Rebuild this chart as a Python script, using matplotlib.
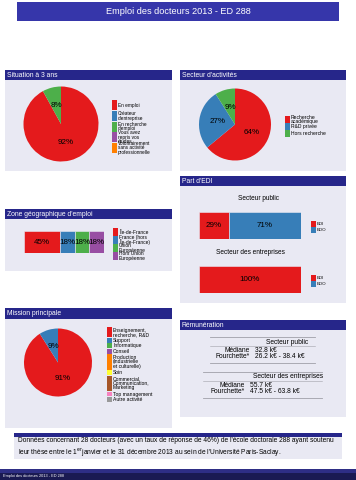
"""Poster: Emploi des docteurs 2013 - ED 288"""
import matplotlib
matplotlib.use("Agg")
import matplotlib.pyplot as plt
from matplotlib.patches import Rectangle

plt.rcParams['font.family'] = ['Liberation Sans', 'DejaVu Sans']

# ---- data ----
set1 = ['#E41A1C', '#377EB8', '#4DAF4A', '#984EA3', '#FF7F00',
        '#FFFF33', '#A65628', '#F781BF', '#999999']

situation_labels = ["En emploi", "Créateur\nd'entreprise", "En recherche\nd'emploi",
                    "Vous avez\nrepris vos\nétudes",
                    "Volontairement\nsans activité\nprofessionnelle"]
situation_values = [92, 0, 8, 0, 0]

secteur_labels = ["Recherche\nacadémique", "R&D privée", "Hors recherche"]
secteur_values = [64, 27, 9]

edi_labels = ["EDI", "EDO"]
edi_public = [29, 71]
edi_entreprises = [100, 0]

zone_labels = ["Île-de-France", "France (hors\nÎle-de-France)", "Union\nEuropéenne",
               "Hors Union\nEuropéenne"]
zone_values = [45, 18, 18, 18]

mission_labels = ["Enseignement,\nrecherche, R&D", "Support", "Informatique", "Conseil",
                  "Production\n(industrielle\net culturelle)", "Soin",
                  "Commercial,\nCommunication,\nMarketing", "Top management",
                  "Autre activité"]
mission_values = [91, 9, 0, 0, 0, 0, 0, 0, 0]

remu_public = ["Secteur public", "32.8 k€", "26.2 k€ - 38.4 k€"]
remu_entreprises = ["Secteur des entreprises", "55.7 k€", "47.5 k€ - 63.8 k€"]

note = ("Données concernant 28 docteurs (avec un taux de réponse de 46%) de l'école "
        "doctorale 288 ayant soutenu\nleur thèse entre le 1$^{\\mathrm{er}}$janvier et le "
        "31 décembre 2013 au sein de l'Université Paris-Saclay.")

# ---- layout helpers (pixel coordinates, origin top-left) ----
W, H = 356, 480
HEAD = '#26268A'
BODY = '#E9E9F3'

fig = plt.figure(figsize=(W / 100, H / 100), dpi=100)
bg = fig.add_axes([0, 0, 1, 1])
bg.set_xlim(0, W)
bg.set_ylim(H, 0)
bg.axis('off')


def px_axes(x0, y0, x1, y1):
    ax = fig.add_axes([x0 / W, 1 - y1 / H, (x1 - x0) / W, (y1 - y0) / H])
    return ax


def block(x0, x1, y_head, y_body, y_end, title):
    bg.add_patch(Rectangle((x0, y_head), x1 - x0, y_body - y_head, color=HEAD, lw=0))
    bg.add_patch(Rectangle((x0, y_body), x1 - x0, y_end - y_body, color=BODY, lw=0))
    bg.text(x0 + 2, (y_head + y_body) / 2 + 0.3, title, color='white', fontsize=4.9,
            va='center', ha='left')


def legend(x, y_top, heights, colors, labels, fs=3.6, ls=0.9):
    y = y_top
    for h, c, lab in zip(heights, colors, labels):
        bg.add_patch(Rectangle((x, y + 0.3), 5, h - 0.6, color=c, lw=0))
        bg.text(x + 6, y + h / 2, lab, fontsize=fs, va='center', ha='left',
                linespacing=ls)
        y += h


def pie(cx, cy, r, values, colors):
    ax = px_axes(cx - r, cy - r, cx + r, cy + r)
    ax.pie(values, colors=colors, startangle=90, counterclock=False,
           autopct=lambda p: f"{p:.0f}%" if p >= 1 else "", pctdistance=0.5,
           textprops={'fontsize': 5.8})
    ax.set_xlim(-1, 1)
    ax.set_ylim(-1, 1)
    ax.axis('off')


def stacked_bar(x0, y0, x1, y1, values, colors):
    ax = px_axes(x0, y0, x1, y1)
    left = 0
    for v, c in zip(values, colors):
        ax.barh(0, v, left=left, height=1, color=c, edgecolor=BODY, linewidth=0.4)
        if v > 0:
            ax.text(left + v / 2, 0, f"{v}%", ha='center', va='center', fontsize=5.8)
        left += v
    ax.set_xlim(0, sum(values))
    ax.set_ylim(-0.5, 0.5)
    ax.axis('off')


# ---- title bar ----
bg.add_patch(Rectangle((17, 2), 322, 19, color='#3636AA', lw=0))
bg.text(178, 11.8, "Emploi des docteurs 2013 - ED 288", color='white', fontsize=6.6,
        ha='center', va='center')

# ---- Situation à 3 ans ----
block(5, 172, 70, 80, 171, "Situation à 3 ans")
pie(61, 124, 37.5, situation_values, set1[:5])
legend(112, 100, [10.6] * 5, set1[:5], situation_labels, fs=3.4, ls=0.85)

# ---- Secteur d'activités ----
block(180, 346, 70, 80, 171, "Secteur d'activités")
pie(235, 124.5, 36, secteur_values, set1[:3])
legend(285, 116, [7, 7, 7], set1[:3], secteur_labels)

# ---- Part d'EDI ----
block(180, 346, 176, 186, 303, "Part d'EDI")
bg.text(258, 199, "Secteur public", fontsize=4.7, ha='center', va='center')
stacked_bar(199, 212, 301, 239, edi_public, set1[:2])
legend(311, 221, [6, 6], set1[:2], edi_labels, fs=3.2)
bg.text(250, 253, "Secteur des entreprises", fontsize=4.7, ha='center', va='center')
stacked_bar(199, 266, 301, 293, edi_entreprises, set1[:2])
legend(311, 275, [6, 6], set1[:2], edi_labels, fs=3.2)

# ---- Zone géographique d'emploi ----
block(5, 172, 209, 219, 271, "Zone géographique d'emploi")
stacked_bar(24, 231, 104, 253, zone_values, set1[:4])
legend(113, 228, [8, 8, 8, 8], set1[:4], zone_labels, fs=3.5, ls=0.85)

# ---- Mission principale ----
block(5, 172, 308, 319, 428, "Mission principale")
pie(58, 362.5, 34, mission_values, set1[:9])
mission_lines = [lab.count("\n") + 1 for lab in mission_labels]
legend(107, 327, [5.36 * n for n in mission_lines], set1[:9], mission_labels)

# ---- Rémunération ----
block(180, 346, 320, 330, 417, "Rémunération")
for rows, top, xl, xr, xsplit in [(remu_public, 337, 210, 315, 252),
                                  (remu_entreprises, 372, 203, 322, 247)]:
    head, med, rng = rows
    bg.plot([xl, xr], [top, top], color='#A0A0A8', lw=0.6)
    bg.text((xsplit + 3 + xr) / 2 + 2, top + 5, head, fontsize=4.8, ha='center', va='center')
    bg.plot([xl, xr], [top + 8.5, top + 8.5], color='#A0A0A8', lw=0.4)
    bg.text(xsplit - 2, top + 13.5, "Médiane", fontsize=4.8, ha='right', va='center')
    bg.text(xsplit + 3, top + 13.5, med, fontsize=4.8, ha='left', va='center')
    bg.text(xsplit - 2, top + 19.5, "Fourchette*", fontsize=4.8, ha='right', va='center')
    bg.text(xsplit + 3, top + 19.5, rng, fontsize=4.8, ha='left', va='center')
    bg.plot([xl, xr], [top + 26, top + 26], color='#A0A0A8', lw=0.6)

# ---- note ----
bg.add_patch(Rectangle((14, 433), 328, 4, color=HEAD, lw=0))
bg.add_patch(Rectangle((14, 437), 328, 22, color=BODY, lw=0))
bg.text(18, 448, note, fontsize=4.75, ha='left', va='center', linespacing=1.35)

# ---- footline ----
bg.add_patch(Rectangle((0, 469), W, 4, color='#2E2E85', lw=0))
bg.add_patch(Rectangle((0, 473), W, 7, color='#1A1A52', lw=0))
bg.text(3, 475.5, "Emploi des docteurs 2013 - ED 288", color='white', fontsize=2.8,
        ha='left', va='center')

fig.savefig("out.png", dpi=100)
